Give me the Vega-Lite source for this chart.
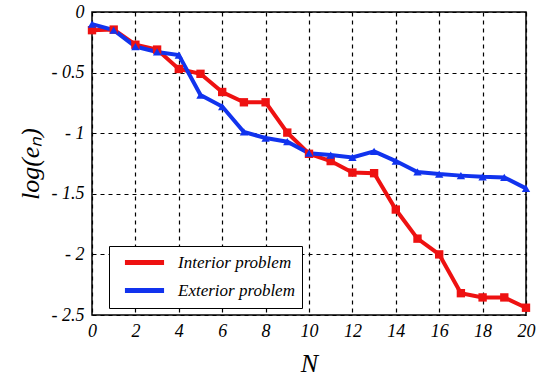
{
  "$schema": "https://vega.github.io/schema/vega-lite/v6.json",
  "autosize": "none",
  "width": 434,
  "height": 303,
  "padding": {"left": 92, "top": 12, "right": 10, "bottom": 68},
  "background": "#ffffff",
  "config": {
    "view": {"stroke": "#000000", "strokeWidth": 1.5},
    "font": "Liberation Serif"
  },
  "data": {
    "values": [
      {"N": 0, "problem": "Interior problem", "v": -0.15},
      {"N": 1, "problem": "Interior problem", "v": -0.145},
      {"N": 2, "problem": "Interior problem", "v": -0.27},
      {"N": 3, "problem": "Interior problem", "v": -0.31},
      {"N": 4, "problem": "Interior problem", "v": -0.47},
      {"N": 5, "problem": "Interior problem", "v": -0.51},
      {"N": 6, "problem": "Interior problem", "v": -0.66},
      {"N": 7, "problem": "Interior problem", "v": -0.745},
      {"N": 8, "problem": "Interior problem", "v": -0.745},
      {"N": 9, "problem": "Interior problem", "v": -0.995},
      {"N": 10, "problem": "Interior problem", "v": -1.17},
      {"N": 11, "problem": "Interior problem", "v": -1.23},
      {"N": 12, "problem": "Interior problem", "v": -1.325},
      {"N": 13, "problem": "Interior problem", "v": -1.33},
      {"N": 14, "problem": "Interior problem", "v": -1.63},
      {"N": 15, "problem": "Interior problem", "v": -1.87},
      {"N": 16, "problem": "Interior problem", "v": -2.0},
      {"N": 17, "problem": "Interior problem", "v": -2.32},
      {"N": 18, "problem": "Interior problem", "v": -2.355},
      {"N": 19, "problem": "Interior problem", "v": -2.355},
      {"N": 20, "problem": "Interior problem", "v": -2.44},
      {"N": 0, "problem": "Exterior problem", "v": -0.1},
      {"N": 1, "problem": "Exterior problem", "v": -0.15},
      {"N": 2, "problem": "Exterior problem", "v": -0.285},
      {"N": 3, "problem": "Exterior problem", "v": -0.33},
      {"N": 4, "problem": "Exterior problem", "v": -0.355},
      {"N": 5, "problem": "Exterior problem", "v": -0.685},
      {"N": 6, "problem": "Exterior problem", "v": -0.78},
      {"N": 7, "problem": "Exterior problem", "v": -0.99},
      {"N": 8, "problem": "Exterior problem", "v": -1.04},
      {"N": 9, "problem": "Exterior problem", "v": -1.07},
      {"N": 10, "problem": "Exterior problem", "v": -1.165},
      {"N": 11, "problem": "Exterior problem", "v": -1.18},
      {"N": 12, "problem": "Exterior problem", "v": -1.2},
      {"N": 13, "problem": "Exterior problem", "v": -1.15},
      {"N": 14, "problem": "Exterior problem", "v": -1.23},
      {"N": 15, "problem": "Exterior problem", "v": -1.32},
      {"N": 16, "problem": "Exterior problem", "v": -1.337},
      {"N": 17, "problem": "Exterior problem", "v": -1.35},
      {"N": 18, "problem": "Exterior problem", "v": -1.36},
      {"N": 19, "problem": "Exterior problem", "v": -1.365},
      {"N": 20, "problem": "Exterior problem", "v": -1.455}
    ]
  },
  "encoding": {
    "x": {
      "field": "N", "type": "quantitative",
      "scale": {"domain": [0, 20], "nice": false},
      "axis": {
        "values": [0, 2, 4, 6, 8, 10, 12, 14, 16, 18, 20],
        "title": "N",
        "titleFont": "Liberation Serif", "titleFontStyle": "italic", "titleFontWeight": "normal", "titleFontSize": 26, "titleColor": "#000000",
        "titlePadding": 10,
        "labelFont": "Liberation Serif", "labelFontStyle": "italic", "labelFontSize": 18, "labelColor": "#000000",
        "labelPadding": 7, "labelFlush": false,
        "domain": false,
        "ticks": false,
        "grid": true, "gridColor": "#000000", "gridDash": [4, 4], "gridWidth": 1.2, "gridOpacity": 1
      }
    },
    "y": {
      "field": "v", "type": "quantitative",
      "scale": {"domain": [-2.5, 0], "nice": false},
      "axis": {
        "values": [0, -0.5, -1, -1.5, -2, -2.5],
        "labelExpr": "datum.value == 0 ? '0' : ('- ' + format(abs(datum.value), ''))",
        "title": "log(e\u2099)",
        "titleFont": "Liberation Serif", "titleFontStyle": "italic", "titleFontWeight": "normal", "titleFontSize": 26, "titleColor": "#000000",
        "titlePadding": 8,
        "labelFont": "Liberation Serif", "labelFontStyle": "italic", "labelFontSize": 18, "labelColor": "#000000",
        "labelPadding": 8, "labelFlush": false,
        "domain": false,
        "ticks": false,
        "grid": true, "gridColor": "#000000", "gridDash": [4, 4], "gridWidth": 1.2, "gridOpacity": 1
      }
    }
  },
  "layer": [
    {
      "mark": {"type": "line", "strokeWidth": 4},
      "encoding": {
        "color": {
          "field": "problem", "type": "nominal",
          "scale": {"domain": ["Interior problem", "Exterior problem"], "range": ["#ee1111", "#1133ee"]},
          "legend": {
            "title": null,
            "orient": "none",
            "legendX": 17,
            "legendY": 234,
            "symbolType": "M-3,0L3,0",
            "symbolStrokeWidth": 5,
            "symbolSize": 170,
            "labelFont": "Liberation Serif", "labelFontStyle": "italic", "labelFontSize": 17, "labelColor": "#000000",
            "labelOffset": 24,
            "rowPadding": 7,
            "padding": 7,
            "symbolOffset": 19,
            "strokeColor": "#000000",
            "fillColor": "#ffffff",
            "cornerRadius": 0
          }
        }
      }
    },
    {
      "transform": [{"filter": "datum.problem === 'Interior problem'"}],
      "mark": {"type": "point", "filled": true, "opacity": 1, "size": 70, "shape": "square", "color": "#ee1111"}
    },
    {
      "transform": [{"filter": "datum.problem === 'Exterior problem'"}],
      "mark": {"type": "point", "filled": true, "opacity": 1, "size": 70, "shape": "triangle-up", "color": "#1133ee"}
    }
  ]
}
